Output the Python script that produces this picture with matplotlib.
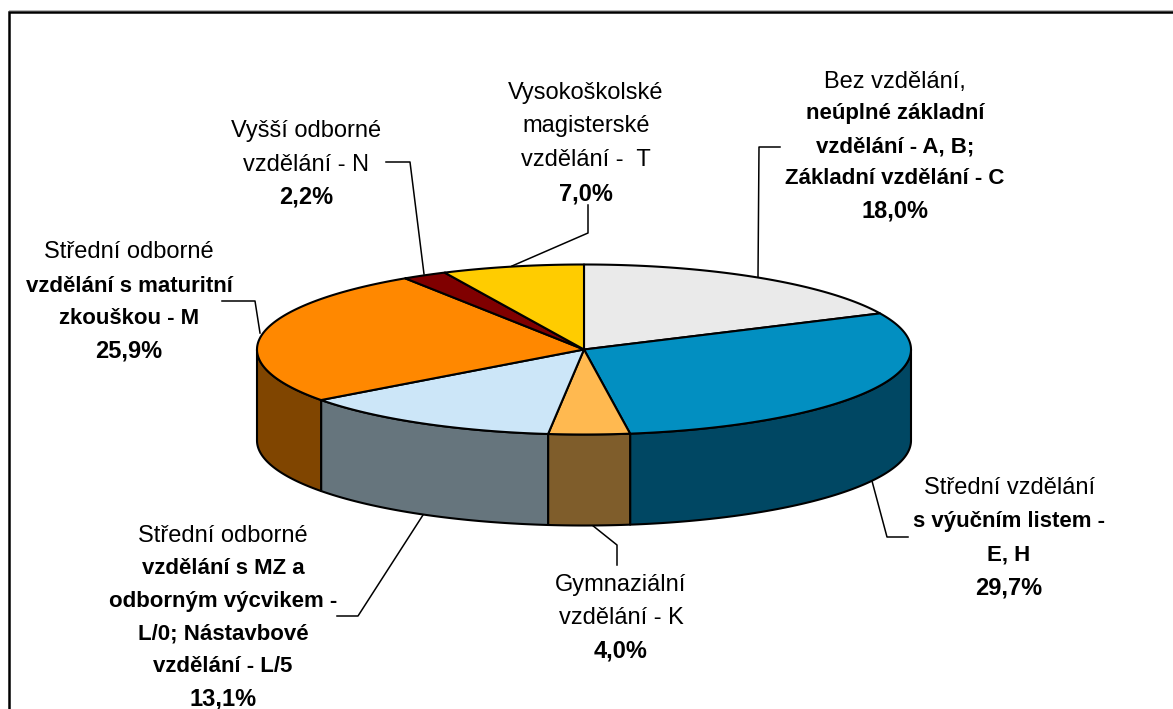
import matplotlib
matplotlib.use('Agg')
import matplotlib.pyplot as plt
import numpy as np

# shares clockwise from 12 o'clock
categories = ['A, B, C', 'E, H', 'K', 'L', 'M', 'N', 'T']
values = [18.0, 29.7, 4.0, 13.1, 25.9, 2.2, 7.0]
top_colors = ['#EAEAEA', '#028FC1', '#FFB950', '#CCE6F8', '#FF8800', '#800000', '#FFCC00']
side_colors = ['#757575', '#004763', '#7F5D2B', '#66757D', '#804500', '#400000', '#806600']

# label lines: (text, bold)
labels = [
    ([('Bez vzdělání,', False), ('neúplné základní', True), ('vzdělání - A, B;', True),
      ('Základní vzdělání - C', True), ('18,0%', True)], 895, [82, 114, 147, 179, 211]),
    ([('Střední vzdělání', False), ('s výučním listem -', True), ('E, H', True), ('29,7%', True)],
     1009, [488, 522, 555, 588]),
    ([('Gymnaziální', False), ('vzdělání - K', False), ('4,0%', True)], 621, [585, 618, 651]),
    ([('Střední odborné', False), ('vzdělání s MZ a', True), ('odborným výcvikem -', True),
      ('L/0; Nástavbové', True), ('vzdělání - L/5', True), ('13,1%', True)],
     223, [536, 569, 601, 634, 667, 699]),
    ([('Střední odborné', False), ('vzdělání s maturitní', True), ('zkouškou - M', True), ('25,9%', True)],
     129, [252, 286, 319, 351]),
    ([('Vyšší odborné', False), ('vzdělání - N', False), ('2,2%', True)], 306, [131, 165, 197]),
    ([('Vysokoškolské', False), ('magisterské', False), ('vzdělání -  T', False), ('7,0%', True)],
     586, [93, 126, 160, 194]),
]

leaders = [
    ([780, 759, 758], [147, 147, 277]),
    ([872, 887, 908], [481, 537, 537]),
    ([592, 617, 617], [525, 545, 565]),
    ([423, 358, 337], [515, 616, 616]),
    ([222, 255, 260], [301, 301, 333]),
    ([386, 410, 424], [162, 162, 274]),
    ([588, 588, 512], [205, 233, 266]),
]

cx, cy = 584, 349.5
rx, ry = 327, 85
depth = 91


def rim(a, b):
    t = np.radians(np.linspace(a, b, max(int(abs(b - a)) * 2, 2)))
    return cx + rx * np.sin(t), cy - ry * np.cos(t)


fig = plt.figure(figsize=(11.73, 7.09), dpi=100)
ax = fig.add_axes([0, 0, 1, 1])
ax.set_xlim(0, 1173)
ax.set_ylim(709, 0)
ax.axis('off')

edges = np.cumsum([0] + values) * 360 / sum(values)

# walls, only the front half of the rim shows
for i in range(len(values)):
    a = max(edges[i], 90)
    b = min(edges[i + 1], 270)
    if a < b:
        x, y = rim(a, b)
        ax.fill(np.r_[x, x[::-1]], np.r_[y, y[::-1] + depth], facecolor=side_colors[i],
                edgecolor='black', lw=1.5, joinstyle='round', zorder=2)

# top
for i in range(len(values)):
    x, y = rim(edges[i], edges[i + 1])
    ax.fill(np.r_[cx, x], np.r_[cy, y], facecolor=top_colors[i],
            edgecolor='black', lw=1.5, joinstyle='round', zorder=3)

for lx, ly in leaders:
    ax.plot(lx, ly, color='black', lw=1.1, zorder=1)

for lines, x, ys in labels:
    for (s, bold), y in zip(lines, ys):
        size = 17 if (not bold or s.endswith('%')) else 16
        ax.text(x, y, s, ha='center', va='center', fontsize=size, family='Liberation Sans',
                fontweight='bold' if bold else 'normal', color='black')

# frame: only left and top show, the rest is cropped away
ax.plot([9, 9, 1173], [709, 12, 12], color='black', lw=1.8, solid_joinstyle='miter')
ax.plot([9, 1173], [10.2, 10.2], color='#b5b5b5', lw=0.7)

fig.savefig('out.png', dpi=100)
